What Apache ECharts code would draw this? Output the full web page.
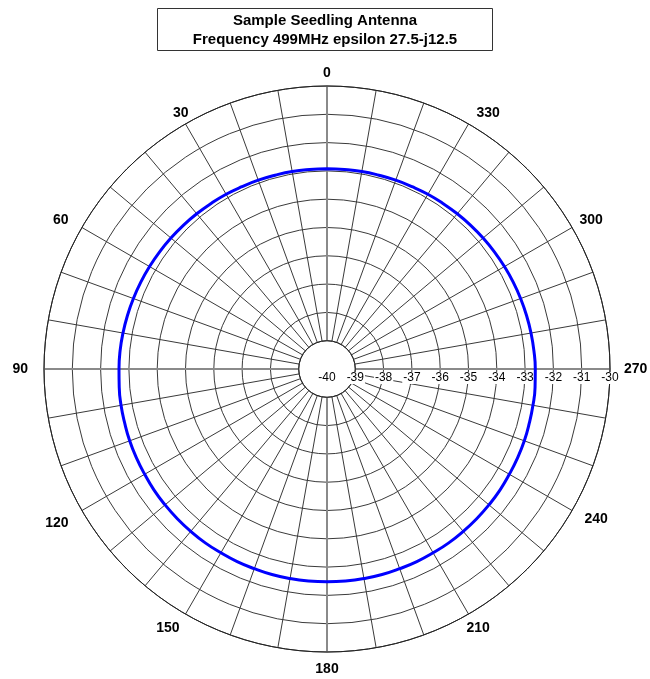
<!DOCTYPE html>
<html>
<head>
<meta charset="utf-8">
<script src="https://cdn.jsdelivr.net/npm/echarts@6/dist/echarts.min.js"></script>
<style>
  html, body { margin: 0; padding: 0; background: #fff; }
  #chart { width: 650px; height: 679px; }
</style>
</head>
<body>
<div id="chart"></div>
<script>
// Radiation pattern, dB, sampled every 5 degrees (0 = top, counter-clockwise)
const patternAngles = [
  0, 5, 10, 15, 20, 25, 30, 35, 40, 45, 50, 55, 60, 65, 70, 75, 80, 85,
  90, 95, 100, 105, 110, 115, 120, 125, 130, 135, 140, 145, 150, 155, 160, 165, 170, 175,
  180, 185, 190, 195, 200, 205, 210, 215, 220, 225, 230, 235, 240, 245, 250, 255, 260, 265,
  270, 275, 280, 285, 290, 295, 300, 305, 310, 315, 320, 325, 330, 335, 340, 345, 350, 355, 360
];
const patternGain = [
  -32.92, -32.92, -32.91, -32.91, -32.90, -32.89, -32.87, -32.86, -32.84, -32.82, -32.80, -32.78,
  -32.76, -32.74, -32.72, -32.70, -32.68, -32.66,
  -32.65, -32.63, -32.61, -32.60, -32.58, -32.57, -32.56, -32.54, -32.53, -32.52, -32.51, -32.50,
  -32.50, -32.49, -32.49, -32.48, -32.48, -32.48,
  -32.48, -32.48, -32.48, -32.48, -32.49, -32.49, -32.50, -32.50, -32.51, -32.52, -32.53, -32.54,
  -32.56, -32.57, -32.58, -32.60, -32.61, -32.62,
  -32.64, -32.66, -32.68, -32.70, -32.72, -32.74, -32.76, -32.78, -32.80, -32.82, -32.84, -32.86,
  -32.87, -32.89, -32.90, -32.91, -32.91, -32.92, -32.92
];

// Angle labels shown every 30 degrees
const angleLabels = [0, 30, 60, 90, 120, 150, 180, 210, 240, 270, 300, 330];
// Radial scale, dB
const radialMin = -40;
const radialMax = -30;

const titleLines = ['Sample Seedling Antenna', 'Frequency 499MHz epsilon 27.5-j12.5'];

const CENTER = [327, 369];
const OUTER = 283;
const INNER = OUTER / (radialMax - radialMin); // hole ends at the first ring

const fontFamily = '"Liberation Sans", Arial, sans-serif';

// Per-label spacing around the rim labels: [top, right, bottom, left]
const rimPadding = {
  0:   [0, 0, 16, 0],
  30:  [0, 2, 12, 0],
  60:  [0, 22, 5, 0],
  90:  [1, 26, 0, 0],
  120: [11, 22, 0, 0],
  150: [16, 11, 0, 0],
  180: [20, 0, 0, 0],
  210: [16, 0, 0, 3],
  240: [7, 0, 0, 21],
  270: [1, 0, 0, 24],
  300: [0, 0, 5, 16],
  330: [0, 0, 12, 13]
};
const rimRich = {};
angleLabels.forEach(function (a) {
  rimRich['a' + a] = {
    fontFamily: fontFamily,
    fontSize: 14,
    fontWeight: 'bold',
    color: '#000',
    padding: rimPadding[a]
  };
});

const chart = echarts.init(document.getElementById('chart'), null, { renderer: 'canvas' });

chart.setOption({
  backgroundColor: '#fff',
  animation: false,
  title: {
    text: titleLines.join('\n'),
    left: 'center',
    top: 8,
    padding: [3, 36, 2, 36],
    borderColor: '#333',
    borderWidth: 1,
    textStyle: {
      fontFamily: fontFamily,
      fontSize: 15,
      fontWeight: 'bold',
      color: '#000',
      lineHeight: 19,
      align: 'center'
    }
  },
  polar: [
    { center: CENTER, radius: [INNER, OUTER] },
    { center: CENTER, radius: [INNER, OUTER] },
    { center: CENTER, radius: [0, OUTER] }
  ],
  angleAxis: [
    {
      polarIndex: 0,
      type: 'value',
      min: 0,
      max: 360,
      interval: 10,
      startAngle: 90,
      clockwise: false,
      axisLine: { show: true, lineStyle: { color: '#222', width: 1 } },
      axisTick: { show: false },
      axisLabel: {
        show: true,
        margin: -10,
        fontFamily: fontFamily,
        fontSize: 14,
        fontWeight: 'bold',
        color: '#000',
        rich: rimRich,
        formatter: function (v) {
          return angleLabels.indexOf(v) >= 0 ? '{a' + v + '|' + v + '}' : '';
        }
      },
      splitLine: { show: true, lineStyle: { color: '#3a3a3a', width: 1 } }
    },
    {
      polarIndex: 1,
      type: 'value',
      min: 0,
      max: 360,
      interval: 90,
      startAngle: 90,
      clockwise: false,
      axisLine: { show: false },
      axisTick: { show: false },
      axisLabel: { show: false },
      splitLine: { show: true, lineStyle: { color: '#8a8a8a', width: 2 } }
    },
    {
      polarIndex: 2,
      type: 'value',
      min: 0,
      max: 360,
      startAngle: 0,
      show: false
    }
  ],
  radiusAxis: [
    {
      polarIndex: 0,
      type: 'value',
      min: radialMin + 1,
      max: radialMax,
      interval: 1,
      axisLine: { show: false },
      axisTick: { show: false },
      axisLabel: { show: false },
      splitLine: { show: true, lineStyle: { color: '#3a3a3a', width: 1 } }
    },
    {
      polarIndex: 1,
      type: 'value',
      min: radialMin + 1,
      max: radialMax,
      interval: 1,
      axisLine: { show: false },
      axisTick: { show: false },
      axisLabel: { show: false },
      splitLine: { show: false }
    },
    {
      polarIndex: 2,
      type: 'value',
      min: radialMin,
      max: radialMax,
      interval: 1,
      z: 5,
      axisLine: { show: false },
      axisTick: { show: false },
      splitLine: { show: false },
      axisLabel: {
        show: true,
        margin: -3,
        verticalAlign: 'top',
        fontFamily: fontFamily,
        fontSize: 12,
        color: '#000',
        backgroundColor: '#fff',
        padding: [0, 1, 0, 1]
      }
    }
  ],
  series: [
    {
      type: 'line',
      coordinateSystem: 'polar',
      polarIndex: 0,
      smooth: true,
      symbol: 'none',
      z: 10,
      lineStyle: { color: '#0000ff', width: 3 },
      data: patternAngles.map((a, i) => [patternGain[i], a])
    }
  ]
});
</script>
</body>
</html>
